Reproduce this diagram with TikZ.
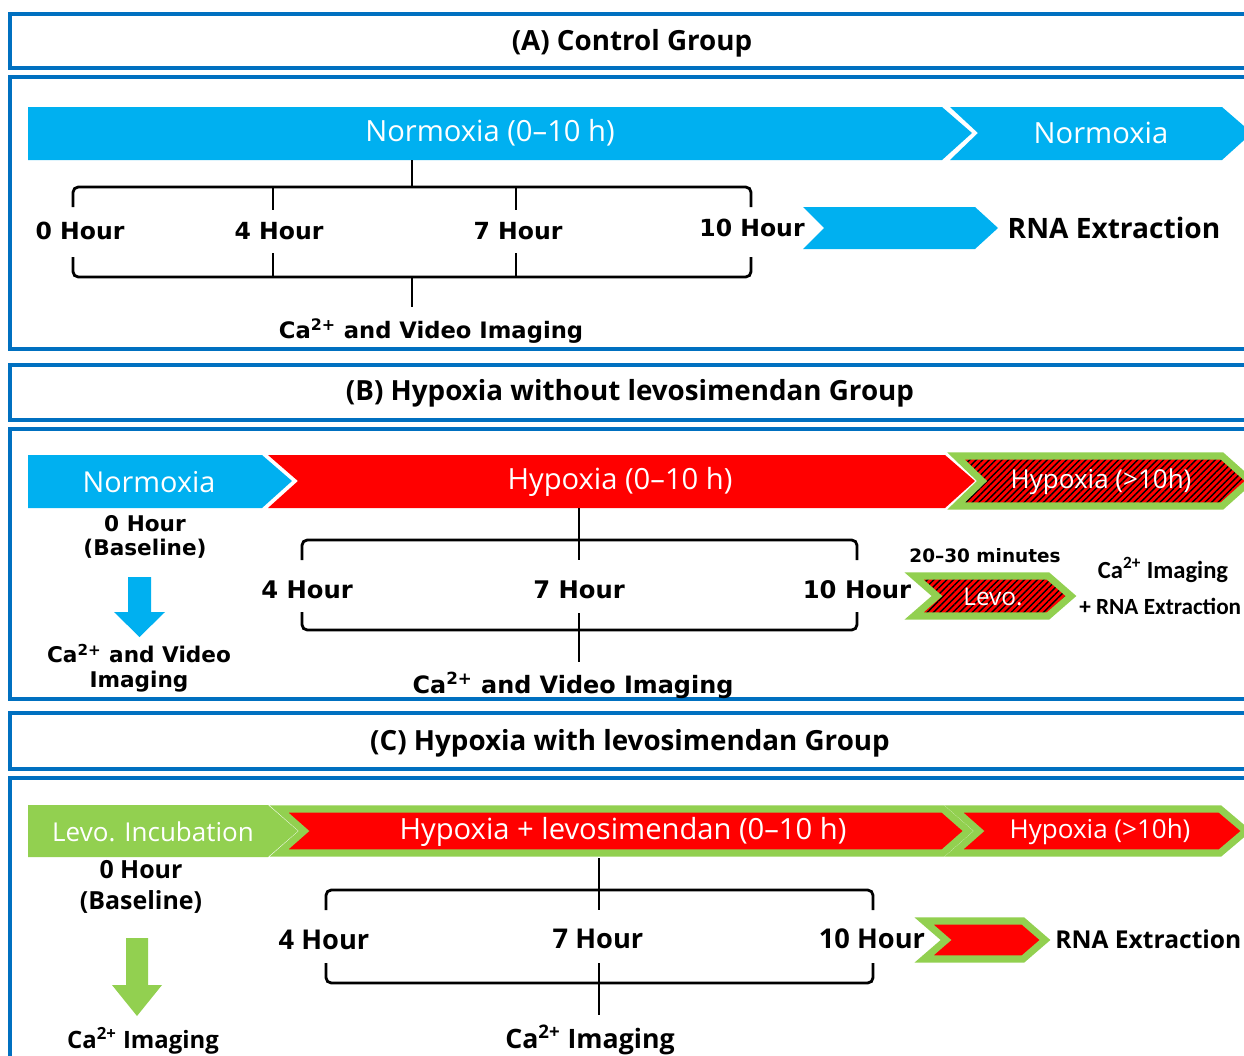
\documentclass[tikz,border=0pt]{standalone}
\usepackage{fontspec}
\setmainfont{Open Sans}
\newfontfamily\verdfont{DejaVu Sans}
\newfontfamily\calfont{Carlito}
\usetikzlibrary{patterns.meta}
\definecolor{skyblue}{HTML}{00B0F0}
\definecolor{frameblue}{HTML}{0070C0}
\definecolor{leafgreen}{HTML}{92D050}
\definecolor{hred}{HTML}{FF0000}
\tikzset{
    panel/.style={draw=frameblue, line width=1.9pt},
    grouptitle/.style={font=\bfseries\fontsize{15.8}{18}\selectfont},
    bartext/.style={text=white, font=\fontsize{16.6}{19}\selectfont},
    smallbartext/.style={text=white, font=\fontsize{14.8}{17}\selectfont},
    hourlbl/.style={font=\verdfont\bfseries\fontsize{13.4}{16}\selectfont},
    baselbl/.style={font=\verdfont\bfseries\fontsize{12.3}{14}\selectfont, align=center},
    hourlblc/.style={font=\bfseries\fontsize{15.5}{18}\selectfont},
    boldlbl/.style={font=\bfseries\fontsize{16}{19}\selectfont},
    brace/.style={line width=1.6pt, rounded corners=3pt},
    greenedge/.style={draw=leafgreen, line width=4pt, line join=miter},
    hatched/.style={preaction={fill=hred}, pattern={Lines[angle=45,distance=2.6pt,line width=0.8pt]}, pattern color=black},
}

\begin{document}
\begin{tikzpicture}[x=0.02cm, y=-0.02cm]
    \useasboundingbox (0,0) rectangle (1244,1055);

    % group frames
    \draw[panel] (10,14) rectangle (1270,68);
    \draw[panel] (10,77) rectangle (1270,349);
    \draw[panel] (10,365) rectangle (1270,420);
    \draw[panel] (10,429) rectangle (1270,699);
    \draw[panel] (10,713) rectangle (1270,769);
    \draw[panel] (10,778) rectangle (1270,1080);

    \node[grouptitle] (titleA) at (632,43) {(A) Control Group};
    \node[grouptitle] (titleB) at (630,393) {(B) Hypoxia without levosimendan Group};
    \node[grouptitle] (titleC) at (630,743) {(C) Hypoxia with levosimendan Group};

    % (A) control
    \fill[skyblue] (28,107) -- (942,107) -- (972,133) -- (942,160) -- (28,160) -- cycle;
    \fill[skyblue] (950,107) -- (1222,107) -- (1252,133) -- (1222,160) -- (950,160) -- (978,133) -- cycle;
    \fill[skyblue] (803,207) -- (975,207) -- (998,228) -- (975,249) -- (803,249) -- (824,228) -- cycle;
    \node[bartext] (normA) at (490,133) {Normoxia (0–10 h)};
    \node[bartext] (normA2) at (1101,133) {Normoxia};

    \draw[brace] (73,207) -- (73,187) -- (751,187) -- (751,207);
    \draw[brace] (73,257) -- (73,277) -- (751,277) -- (751,257);
    \draw[line width=1.6pt] (412,160) -- (412,187) (273,187) -- (273,210) (516,187) -- (516,210);
    \draw[line width=1.6pt] (412,277) -- (412,307) (273,277) -- (273,253) (516,277) -- (516,253);

    \node[hourlbl] (a0) at (80,231) {0 Hour};
    \node[hourlbl] (a4) at (279,231) {4 Hour};
    \node[hourlbl] (a7) at (518,231) {7 Hour};
    \node[hourlbl] (a10) at (752,228) {10 Hour};
    \node[boldlbl] (rnaA) at (1114,228) {RNA Extraction};
    \node[hourlbl, font=\verdfont\bfseries\fontsize{12.9}{16}\selectfont] (imgA) at (431,331) {Ca\textsuperscript{2+} and Video Imaging};

    % (B) hypoxia without levosimendan
    \fill[skyblue] (28,455) -- (262,455) -- (292,481) -- (262,508) -- (28,508) -- cycle;
    \fill[hred] (268,455) -- (945,455) -- (975,481) -- (945,508) -- (268,508) -- (298,481) -- cycle;
    \draw[greenedge, hatched] (956,456) -- (1222,456) -- (1250,481) -- (1222,506) -- (956,506) -- (982,481) -- cycle;
    \draw[greenedge, hatched] (914,576) -- (1048,576) -- (1071,596) -- (1048,616) -- (914,616) -- (937,596) -- cycle;
    \node[bartext, font=\fontsize{16.4}{19}\selectfont] (normB) at (149,482) {Normoxia};
    \node[bartext] (hypB) at (620,482) {Hypoxia (0–10 h)};
    \node[smallbartext] (longB) at (1101,482) {Hypoxia (>10h)};
    \node[smallbartext, font=\fontsize{13.9}{16}\selectfont] (levoB) at (993,597) {Levo.};

    \node[baselbl] (b0) at (145,537) {0 Hour\\(Baseline)};
    \fill[skyblue] (128,577) -- (151,577) -- (151,612) -- (165,612) -- (139.5,637) -- (114,612) -- (128,612) -- cycle;
    \node[baselbl] (bimg) at (139,668) {Ca\textsuperscript{2+} and Video\\Imaging};

    \draw[brace] (302,560) -- (302,540) -- (857,540) -- (857,560);
    \draw[brace] (302,612) -- (302,630) -- (857,630) -- (857,612);
    \draw[line width=1.6pt] (579,508) -- (579,560) (579,613) -- (579,662);

    \node[hourlbl, font=\verdfont\bfseries\fontsize{13.8}{16}\selectfont] (b4) at (307,590) {4 Hour};
    \node[hourlbl, font=\verdfont\bfseries\fontsize{13.8}{16}\selectfont] (b7) at (579,590) {7 Hour};
    \node[hourlbl, font=\verdfont\bfseries\fontsize{13.8}{16}\selectfont] (b10) at (857,590) {10 Hour};
    \node[hourlbl, font=\verdfont\bfseries\fontsize{10.5}{12}\selectfont] (mins) at (985,556) {20–30 minutes};
    \node[font=\calfont\bfseries\fontsize{14}{17}\selectfont] (caB) at (1163,570) {Ca\textsuperscript{2+} Imaging};
    \node[font=\calfont\bfseries\fontsize{13.2}{17}\selectfont, anchor=west, inner sep=0pt] (rnaB) at (1079,606) {+ RNA Extraction};
    \node[hourlbl, font=\verdfont\bfseries\fontsize{13.6}{16}\selectfont] (imgB) at (573,685) {Ca\textsuperscript{2+} and Video Imaging};

    % (C) hypoxia with levosimendan
    \fill[leafgreen] (28,805) -- (268,805) -- (298,831) -- (268,857) -- (28,857) -- cycle;
    \draw[greenedge, fill=hred] (279,809) -- (943,809) -- (968,831) -- (943,853) -- (279,853) -- (304,831) -- cycle;
    \draw[greenedge, fill=hred] (954,809) -- (1220,809) -- (1246,831) -- (1220,853) -- (954,853) -- (979,831) -- cycle;
    \draw[greenedge, fill=hred] (924,921) -- (1023,921) -- (1045,940) -- (1023,959) -- (924,959) -- (946,940) -- cycle;
    \node[bartext, font=\fontsize{14.8}{18}\selectfont] (levoC) at (153,832) {Levo. Incubation};
    \node[bartext] (hypC) at (623,832) {Hypoxia + levosimendan (0–10 h)};
    \node[smallbartext] (longC) at (1100,832) {Hypoxia (>10h)};

    \node[hourlblc, font=\bfseries\fontsize{14.2}{17.5}\selectfont, align=center] (c0) at (141,887) {0 Hour\\(Baseline)};
    \fill[leafgreen] (126,938) -- (148,938) -- (148,985) -- (162,985) -- (137,1016) -- (112,985) -- (126,985) -- cycle;
    \node[hourlblc, font=\bfseries\fontsize{13.6}{16}\selectfont] (cimg) at (143,1041) {Ca\textsuperscript{2+} Imaging};

    \draw[brace] (326,910) -- (326,890) -- (873,890) -- (873,910);
    \draw[brace] (326,963) -- (326,983) -- (873,983) -- (873,963);
    \draw[line width=1.6pt] (599,858) -- (599,910) (599,963) -- (599,1015);

    \node[hourlblc] (c4) at (324,940) {4 Hour};
    \node[hourlblc] (c7) at (598,939) {7 Hour};
    \node[hourlblc] (c10) at (872,939) {10 Hour};
    \node[boldlbl, font=\bfseries\fontsize{14}{18}\selectfont, anchor=west, inner sep=0pt] (rnaC) at (1055,939) {RNA Extraction};
    \node[hourlblc, font=\bfseries\fontsize{15.2}{18}\selectfont] (imgC) at (590,1040) {Ca\textsuperscript{2+} Imaging};
\end{tikzpicture}
\end{document}
